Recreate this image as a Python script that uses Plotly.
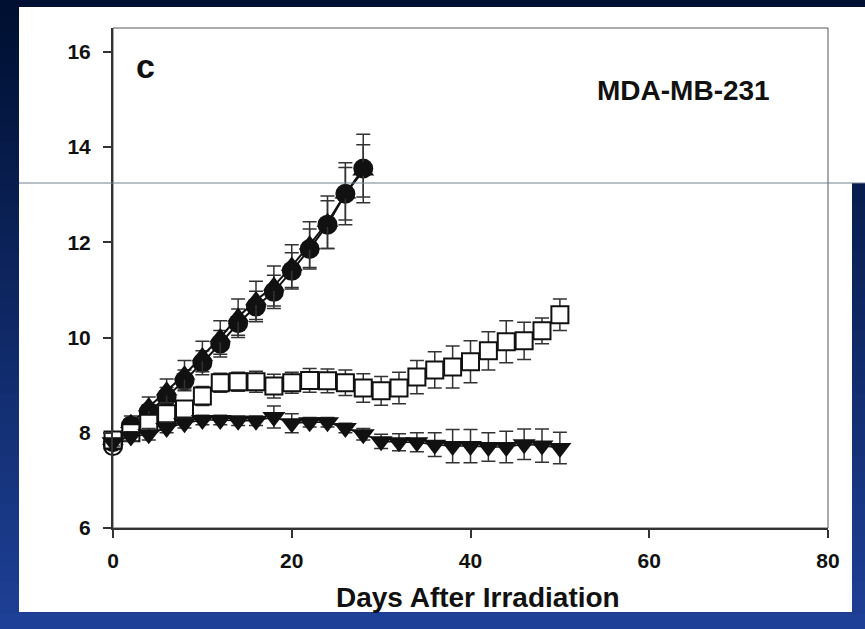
import plotly.graph_objects as go

# ---------------- data ----------------
days_short = [0, 2, 4, 6, 8, 10, 12, 14, 16, 18, 20, 22, 24, 26, 28]
days_long = [0, 2, 4, 6, 8, 10, 12, 14, 16, 18, 20, 22, 24, 26, 28,
             30, 32, 34, 36, 38, 40, 42, 44, 46, 48, 50]

circle_vals = [7.8, 8.15, 8.44, 8.75, 9.1, 9.47, 9.87, 10.3, 10.65, 10.96,
               11.4, 11.86, 12.37, 13.02, 13.55]
circle_err = [0.1, 0.12, 0.15, 0.2, 0.22, 0.25, 0.28, 0.3, 0.32, 0.35,
              0.38, 0.42, 0.5, 0.55, 0.72]

tri_up_vals = [7.85, 8.2, 8.55, 8.88, 9.22, 9.6, 10.0, 10.43, 10.78, 11.08,
               11.5, 11.95, 12.42, 13.02, 13.5]
tri_up_err = [0.1, 0.15, 0.2, 0.25, 0.3, 0.32, 0.35, 0.38, 0.4, 0.42,
              0.45, 0.48, 0.55, 0.65, 0.55]

square_vals = [7.85, 8.0, 8.2, 8.4, 8.5, 8.77, 9.05, 9.07, 9.07, 8.98, 9.05,
               9.1, 9.09, 9.05, 8.94, 8.88, 8.94, 9.17, 9.32, 9.38, 9.49,
               9.72, 9.91, 9.93, 10.14, 10.48]
square_err = [0.1, 0.1, 0.12, 0.15, 0.15, 0.2, 0.2, 0.2, 0.22, 0.25, 0.22,
              0.25, 0.25, 0.27, 0.3, 0.3, 0.33, 0.35, 0.38, 0.44, 0.44,
              0.4, 0.44, 0.39, 0.27, 0.33]

tri_down_vals = [7.8, 7.92, 7.97, 8.1, 8.2, 8.27, 8.27, 8.25, 8.25, 8.33, 8.2,
                 8.22, 8.22, 8.1, 7.97, 7.82, 7.8, 7.8, 7.75, 7.72, 7.72,
                 7.7, 7.7, 7.76, 7.73, 7.68]
tri_down_err = [0.08, 0.1, 0.12, 0.1, 0.1, 0.1, 0.1, 0.1, 0.1, 0.23, 0.2,
                0.1, 0.1, 0.1, 0.12, 0.15, 0.18, 0.2, 0.25, 0.35, 0.35,
                0.3, 0.33, 0.32, 0.35, 0.33]

open_circle_days = [0]
open_circle_vals = [7.72]

x_ticks = [0, 20, 40, 60, 80]
y_ticks = [6, 8, 10, 12, 14, 16]
panel_label = "c"
cell_line = "MDA-MB-231"
x_title = "Days After Irradiation"

# ---------------- figure ----------------
FONT = "Liberation Sans, Arial, Helvetica, sans-serif"
INK = "#111111"

def err(arr):
    return dict(type="data", array=arr, visible=True, color="#333333",
                thickness=1.5, width=7)

fig = go.Figure()

fig.add_trace(go.Scatter(
    x=open_circle_days, y=open_circle_vals, mode="markers",
    marker=dict(symbol="circle-open", size=18, color=INK, line=dict(width=2)),
    cliponaxis=False, showlegend=False))

fig.add_trace(go.Scatter(
    x=days_short, y=circle_vals, mode="lines+markers",
    line=dict(color=INK, width=2),
    marker=dict(symbol="circle", size=20, color=INK),
    error_y=err(circle_err), cliponaxis=False, showlegend=False))

fig.add_trace(go.Scatter(
    x=days_short, y=tri_up_vals, mode="lines+markers",
    line=dict(color=INK, width=2),
    marker=dict(symbol="triangle-up", size=19, color=INK),
    error_y=err(tri_up_err), cliponaxis=False, showlegend=False))

fig.add_trace(go.Scatter(
    x=days_long, y=square_vals, mode="lines+markers",
    line=dict(color=INK, width=1.5),
    marker=dict(symbol="square", size=17, color="white",
                line=dict(color=INK, width=2)),
    error_y=err(square_err), cliponaxis=False, showlegend=False))

fig.add_trace(go.Scatter(
    x=days_long, y=tri_down_vals, mode="lines+markers",
    line=dict(color=INK, width=1.5),
    marker=dict(symbol="triangle-down", size=20, color=INK),
    error_y=err(tri_down_err), cliponaxis=False, showlegend=False))

# ---------------- background (page look) ----------------
L, R, T, B = 113, 37, 28, 101
W, H = 865, 629
PW, PH = W - L - R, H - T - B

def px(x):
    return (x - L) / PW

def py(y):
    return (H - B - y) / PH

shapes = []
n = 40
top_c = (0, 16, 50)
bot_c = (30, 64, 150)
for i in range(n):
    f = i / (n - 1)
    c = tuple(int(top_c[k] + (bot_c[k] - top_c[k]) * f) for k in range(3))
    y0 = i * H / n
    y1 = (i + 1) * H / n + 1
    shapes.append(dict(type="rect", xref="paper", yref="paper",
                       x0=px(0), x1=px(W), y0=py(y1), y1=py(y0),
                       fillcolor="rgb(%d,%d,%d)" % c, line=dict(width=0),
                       layer="below"))
# white sheet
shapes.append(dict(type="rect", xref="paper", yref="paper",
                   x0=px(19), x1=px(865), y0=py(183), y1=py(7),
                   fillcolor="white", line=dict(width=0), layer="below"))
shapes.append(dict(type="rect", xref="paper", yref="paper",
                   x0=px(19), x1=px(852), y0=py(612), y1=py(183),
                   fillcolor="white", line=dict(width=0), layer="below"))
# thin frame (top/right)
shapes.append(dict(type="rect", xref="paper", yref="paper",
                   x0=0, x1=1, y0=0, y1=1,
                   line=dict(color="#555555", width=1), layer="below"))
# stray horizontal rule
shapes.append(dict(type="line", xref="paper", yref="paper",
                   x0=px(19), x1=px(865), y0=py(183), y1=py(183),
                   line=dict(color="#767f8f", width=1), layer="above"))

fig.update_layout(
    width=W, height=H,
    margin=dict(l=L, r=R, t=T, b=B, pad=0),
    paper_bgcolor="rgb(0,16,50)",
    plot_bgcolor="rgba(0,0,0,0)",
    shapes=shapes,
    font=dict(family=FONT, color=INK),
    xaxis=dict(range=[0, 80], tickvals=x_ticks, ticks="outside", ticklen=8,
               tickwidth=1.5, tickcolor="#333333", showline=True,
               linecolor="#333333", linewidth=2, showgrid=False,
               zeroline=False, ticklabelstandoff=5,
               tickfont=dict(family=FONT, size=21, color=INK, weight="bold")),
    yaxis=dict(range=[6, 16.5], tickvals=y_ticks, ticks="outside", ticklen=8,
               tickwidth=1.5, tickcolor="#333333", showline=True,
               linecolor="#333333", linewidth=2, showgrid=False,
               zeroline=False, ticklabelstandoff=8,
               tickfont=dict(family=FONT, size=21, color=INK, weight="bold")),
    annotations=[
        dict(text=panel_label, xref="paper", yref="paper", x=px(145), y=py(66),
             showarrow=False, xanchor="center", yanchor="middle",
             font=dict(family=FONT, size=34, color=INK, weight="bold")),
        dict(text=cell_line, xref="paper", yref="paper", x=px(683), y=py(90),
             showarrow=False, xanchor="center", yanchor="middle",
             font=dict(family=FONT, size=28, color=INK, weight="bold")),
        dict(text=x_title, xref="paper", yref="paper", x=px(478), y=py(597),
             showarrow=False, xanchor="center", yanchor="middle",
             font=dict(family=FONT, size=28, color=INK, weight="bold")),
    ],
)

fig.write_html(
    "out.html",
    config={"displayModeBar": False},
    post_script="document.body.style.margin='0';"
                "document.body.style.overflow='hidden';",
)
